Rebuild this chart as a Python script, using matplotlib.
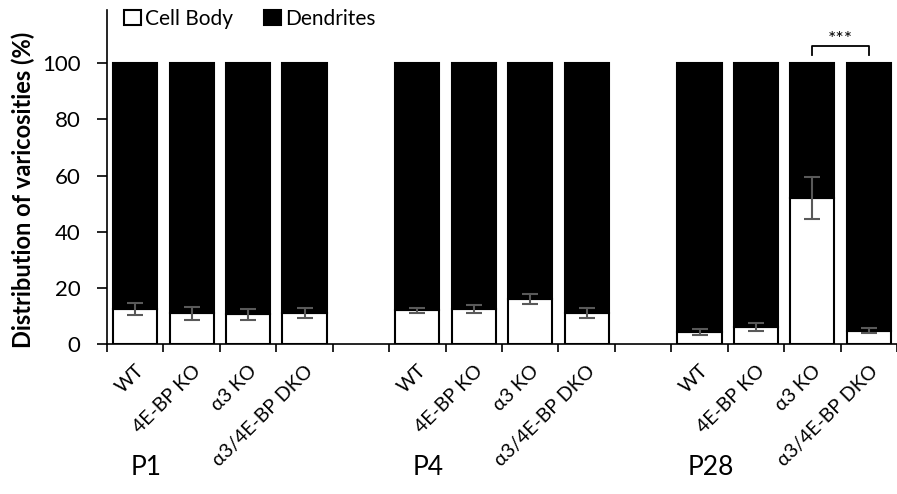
import numpy as np
import matplotlib.pyplot as plt

plt.rcParams['font.family'] = ['Lato', 'DejaVu Sans']

# ---------------------------
# Data
# ---------------------------
genotypes = ["WT", "4E-BP KO", "\u03b13 KO", "\u03b13/4E-BP DKO"]
ages = ["P1", "P4", "P28"]

cell_body = [12.5, 11.0, 10.6, 11.0,
             12.0, 12.4, 16.0, 11.0,
             4.2, 6.0, 52.0, 4.7]
cell_body_err = [2.0, 2.3, 2.0, 1.7,
                 1.0, 1.5, 1.8, 1.8,
                 1.0, 1.4, 7.5, 0.9]

# ---------------------------
# Positions (one empty slot between ages)
# ---------------------------
pos = []
for g in range(len(ages)):
    for i in range(len(genotypes)):
        pos.append(g * 5 + i)
pos = np.array(pos)
cell_body = np.array(cell_body)
dendrites = 100 - cell_body

fig = plt.figure(figsize=(8.97, 4.94), dpi=100)
ax = fig.add_axes([107 / 897, 150 / 494, 790 / 897, 334 / 494])

w = 0.78
ax.bar(pos, cell_body, w, color="white", edgecolor="black", linewidth=1.5,
       label="Cell Body", zorder=2)
ax.bar(pos, dendrites, w, bottom=cell_body, color="black", edgecolor="black",
       linewidth=1.5, label="Dendrites", zorder=2)
ax.errorbar(pos, cell_body, yerr=cell_body_err, fmt="none", ecolor="#595959",
            elinewidth=1.5, capsize=5.5, capthick=1.5, zorder=3)

# significance bracket
x1, x2 = pos[10], pos[11]
ax.plot([x1, x1, x2, x2], [103, 106, 106, 103], color="black", lw=1.3,
        clip_on=False)
ax.text((x1 + x2) / 2, 105.5, "***", ha="center", va="bottom", fontsize=14)

ax.set_xlim(-0.5, 13.36)
ax.set_ylim(0, 119)
ax.set_yticks([0, 20, 40, 60, 80, 100])
ax.tick_params(axis="y", labelsize=16, direction="out", length=7, width=1.2,
               pad=12)

ax.set_xticks(pos)
ax.set_xticklabels(genotypes * 3, rotation=45, ha="right",
                   rotation_mode="anchor", fontsize=14)
ax.tick_params(axis="x", which="major", length=0, pad=13)
ax.set_xticks(np.arange(-0.5, 13.6, 1), minor=True)
ax.tick_params(axis="x", which="minor", direction="out", length=6, width=1.2)

for s in ["top", "right"]:
    ax.spines[s].set_visible(False)
for s in ["left", "bottom"]:
    ax.spines[s].set_linewidth(1.2)

ax.set_ylabel("Distribution of varicosities (%)", fontsize=17,
              fontweight="bold", va="center")
ax.yaxis.set_label_coords(-0.106, 0.46)

for g, age in enumerate(ages):
    ax.text(g * 5 + 0.2, -44, age, ha="center", va="center", fontsize=19,
            transform=ax.transData, clip_on=False)

ax.legend(loc="upper left", bbox_to_anchor=(-0.002, 1.06), ncol=2, frameon=False,
          fontsize=15, handlelength=0.8, handleheight=0.8, handletextpad=0.2,
          columnspacing=1.5)

fig.savefig("out.png", dpi=100)
